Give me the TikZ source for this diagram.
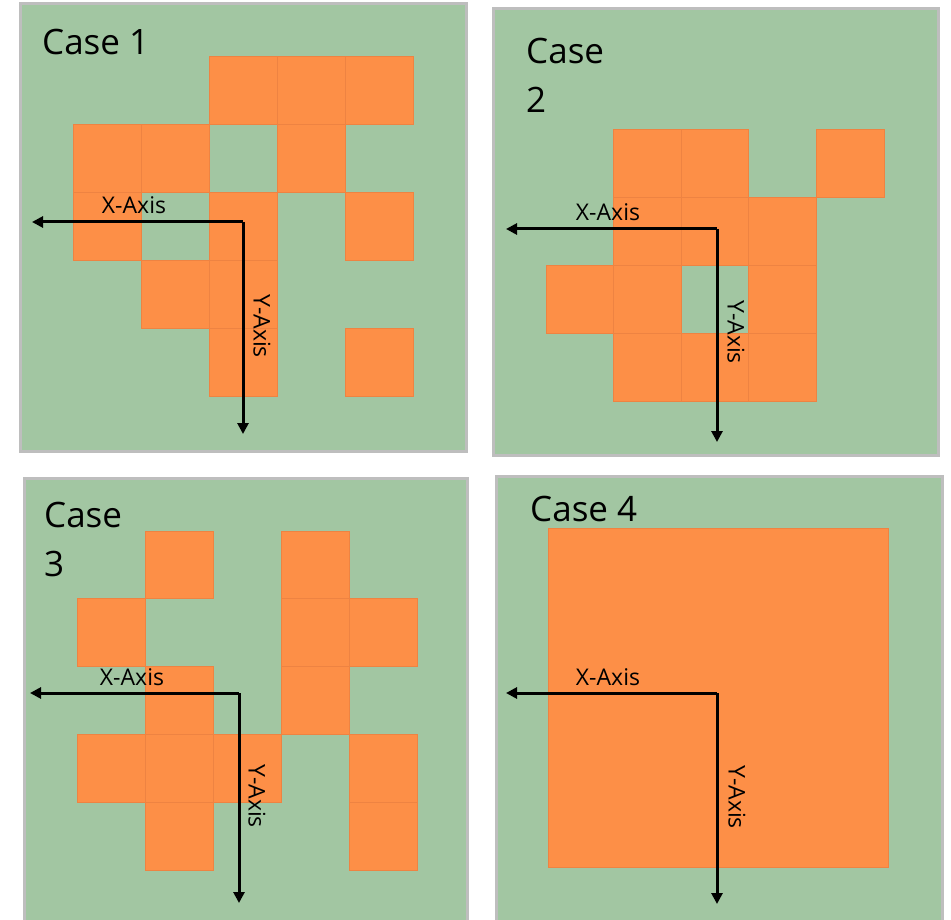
\documentclass[tikz,border=0pt]{standalone}
\usepackage{fontspec}
\setmainfont{Open Sans}
\usetikzlibrary{arrows.meta}
\definecolor{panelgreen}{RGB}{162,198,162}
\definecolor{panelrim}{RGB}{190,190,190}
\definecolor{cellorange}{RGB}{253,143,71}
\definecolor{celledge}{RGB}{226,122,62}
\tikzset{
  panel/.style={fill=panelgreen, draw=panelrim, line width=3pt},
  cellfill/.style={fill=cellorange},
  celloutline/.style={draw=celledge!55!cellorange, line width=0.7pt},
  axis/.style={line width=3pt, -{Triangle[width=11pt,length=11pt]}},
  axislabel/.style={font=\fontsize{23}{26}\selectfont, inner sep=0pt},
  casetitle/.style={font=\fontsize{35}{49}\selectfont, inner sep=0pt, align=left}
}
\begin{document}
\begin{tikzpicture}[x=1pt,y=-1pt]
\useasboundingbox (0,0) rectangle (951,920);
\clip (0,0) rectangle (951,920);
\fill[white] (0,0) rectangle (951,920);

% ---- panels ----
\draw[panel] (20,4) rectangle (466,451);
\draw[panel] (493,9) rectangle (938,455);
\draw[panel] (24,478) rectangle (467,940);
\draw[panel] (496,476) rectangle (942,940);

% ---- Case 1 cells ----
\begin{scope}[shift={(73,56)}, x=68pt, y=-68pt]
  \foreach \c/\r in {2/0,3/0,4/0,0/1,1/1,3/1,0/2,2/2,4/2,1/3,2/3,2/4,4/4}
    \fill[cellfill] (\c,\r) rectangle ++(1,1);
  \foreach \c/\r in {2/0,3/0,4/0,0/1,1/1,3/1,0/2,2/2,4/2,1/3,2/3,2/4,4/4}
    \draw[celloutline] (\c,\r) rectangle ++(1,1);
\end{scope}

% ---- Case 2 cells ----
\begin{scope}[shift={(546,129)}, x=67.6pt, y=-68pt]
  \foreach \c/\r in {1/0,2/0,4/0,1/1,2/1,3/1,0/2,1/2,3/2,1/3,2/3,3/3}
    \fill[cellfill] (\c,\r) rectangle ++(1,1);
  \foreach \c/\r in {1/0,2/0,4/0,1/1,2/1,3/1,0/2,1/2,3/2,1/3,2/3,3/3}
    \draw[celloutline] (\c,\r) rectangle ++(1,1);
\end{scope}

% ---- Case 3 cells ----
\begin{scope}[shift={(77,531)}, x=68pt, y=-67.8pt]
  \foreach \c/\r in {1/0,3/0,0/1,3/1,4/1,1/2,3/2,0/3,1/3,2/3,4/3,1/4,4/4}
    \fill[cellfill] (\c,\r) rectangle ++(1,1);
  \foreach \c/\r in {1/0,3/0,0/1,3/1,4/1,1/2,3/2,0/3,1/3,2/3,4/3,1/4,4/4}
    \draw[celloutline] (\c,\r) rectangle ++(1,1);
\end{scope}

% ---- Case 4 block ----
\fill[cellfill] (548,528) rectangle (888,867);
\draw[celloutline] (548,528) rectangle (888,867);

% ---- titles ----
\node[casetitle, anchor=base west] (t1) at (42,55) {Case 1};
\node[casetitle, anchor=north west] (t2) at (526,38) {Case\\2};
\node[casetitle, anchor=north west] (t3) at (44,502) {Case\\3};
\node[casetitle, anchor=base west] (t4) at (530,521) {Case 4};

% ---- axes ----
\coordinate (o1) at (243,222);
\coordinate (x1) at (32,222);
\coordinate (y1) at (243,434);
\draw[axis] (o1) -- (x1);
\draw[axis] (o1) -- (y1);
\node[axislabel] (xl1) at (134,205) {X-Axis};
\node[axislabel, rotate=-90] (yl1) at (262,326) {Y-Axis};

\coordinate (o2) at (717,229);
\coordinate (x2) at (506,229);
\coordinate (y2) at (717,442);
\draw[axis] (o2) -- (x2);
\draw[axis] (o2) -- (y2);
\node[axislabel] (xl2) at (608,212) {X-Axis};
\node[axislabel, rotate=-90] (yl2) at (736,332) {Y-Axis};

\coordinate (o3) at (239,693);
\coordinate (x3) at (30,693);
\coordinate (y3) at (239,903);
\draw[axis] (o3) -- (x3);
\draw[axis] (o3) -- (y3);
\node[axislabel] (xl3) at (132,677) {X-Axis};
\node[axislabel, rotate=-90] (yl3) at (257,796) {Y-Axis};

\coordinate (o4) at (717,693);
\coordinate (x4) at (506,693);
\coordinate (y4) at (717,904);
\draw[axis] (o4) -- (x4);
\draw[axis] (o4) -- (y4);
\node[axislabel] (xl4) at (608,677) {X-Axis};
\node[axislabel, rotate=-90] (yl4) at (737,797) {Y-Axis};
\end{tikzpicture}
\end{document}
